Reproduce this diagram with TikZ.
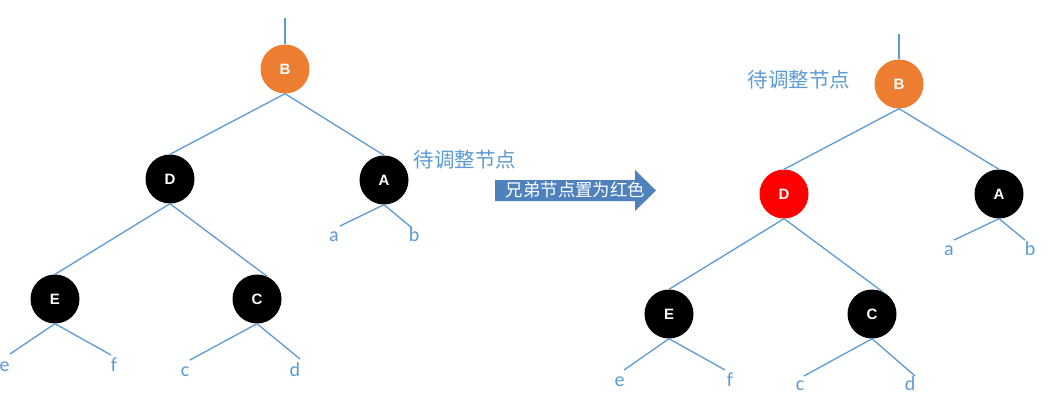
\documentclass[tikz,border=0pt]{standalone}
\usepackage{fontspec}
\setmainfont{Carlito}
\newfontfamily\cjk{Noto Sans CJK SC}
\newfontfamily\labfont{Liberation Sans}
\definecolor{lblue}{HTML}{5B9BD5}
\definecolor{orng}{HTML}{ED7D31}
\definecolor{arrowblue}{HTML}{4F81BD}
\begin{document}
\begin{tikzpicture}[x=1pt,y=-1pt,
  rbnode/.style={circle, minimum size=49pt, inner sep=0pt, text=white,
    font=\labfont\bfseries\fontsize{15}{15}\selectfont},
  blk/.style={rbnode, fill=black},
  orn/.style={rbnode, fill=orng},
  redn/.style={rbnode, fill=red},
  edge/.style={draw=lblue, line width=1.3pt},
  leaf/.style={text=lblue, font=\fontsize{20}{20}\selectfont, inner sep=0pt, anchor=base},
  note/.style={text=lblue, font=\cjk\fontsize{20.5}{20.5}\selectfont, inner sep=0pt}
]
\useasboundingbox (0,0) rectangle (1057,412);

% ---------- left tree ----------
\node[orn] (LB) at (285,69) {B};
\node[blk] (LD) at (170,179) {D};
\node[blk] (LA) at (384,180) {A};
\node[blk] (LE) at (55,299) {E};
\node[blk] (LC) at (257,299) {C};
\coordinate (LTop) at (285,18);
\coordinate (La) at (340,226);
\coordinate (Lb) at (412,228);
\coordinate (Le) at (10,354);
\coordinate (Lf) at (111,355);
\coordinate (Lc) at (190,360);
\coordinate (Ld) at (300,359);
\draw[edge] (LTop) -- (LB.north);
\draw[edge] (LB.south) -- (LD.north);
\draw[edge] (LB.south) -- (LA.north);
\draw[edge] (LD.south) -- (LE.north);
\draw[edge] (LD.south) -- (LC.65);
\draw[edge] (LA.south) -- (La);
\draw[edge] (LA.south) -- (Lb);
\draw[edge] (LE.south) -- (Le);
\draw[edge] (LE.south) -- (Lf);
\draw[edge] (LC.south) -- (Lc);
\draw[edge] (LC.south) -- (Ld);
\node[leaf] (tLa) at (334,241.5) {a};
\node[leaf] (tLb) at (414,241.5) {b};
\node[leaf] (tLe) at (4.5,371) {e};
\node[leaf] (tLf) at (114,371) {f};
\node[leaf] (tLc) at (185,376) {c};
\node[leaf] (tLd) at (295,376) {d};
\node[note] (noteL) at (465,160) {待调整节点};

% ---------- arrow ----------
\fill[arrowblue] (495,180) -- (635,180) -- (635,170) -- (656,190.5) -- (635,211) -- (635,201) -- (495,201) -- cycle;
\node[text=white, font=\cjk\fontsize{17.4}{17.4}\selectfont, inner sep=0pt] (arrowtext) at (575.5,189.5) {兄弟节点置为红色};

% ---------- right tree ----------
\node[orn] (RB) at (899,84) {B};
\node[redn] (RD) at (784,194) {D};
\node[blk] (RA) at (999,194) {A};
\node[blk] (RE) at (669,314) {E};
\node[blk] (RC) at (872,314) {C};
\coordinate (RTop) at (899,34);
\coordinate (Ra) at (954,240);
\coordinate (Rb) at (1025,240);
\coordinate (Re) at (624,370);
\coordinate (Rf) at (725,370);
\coordinate (Rc) at (804,376);
\coordinate (Rd) at (915,376);
\draw[edge] (RTop) -- (RB.north);
\draw[edge] (RB.south) -- (RD.north);
\draw[edge] (RB.south) -- (RA.north);
\draw[edge] (RD.south) -- (RE.north);
\draw[edge] (RD.south) -- (RC.65);
\draw[edge] (RA.south) -- (Ra);
\draw[edge] (RA.south) -- (Rb);
\draw[edge] (RE.south) -- (Re);
\draw[edge] (RE.south) -- (Rf);
\draw[edge] (RC.south) -- (Rc);
\draw[edge] (RC.south) -- (Rd);
\node[leaf] (tRa) at (949,255.5) {a};
\node[leaf] (tRb) at (1030,255.5) {b};
\node[leaf] (tRe) at (619.5,386) {e};
\node[leaf] (tRf) at (730,386) {f};
\node[leaf] (tRc) at (800,390.5) {c};
\node[leaf] (tRd) at (910,390.5) {d};
\node[note] (noteR) at (799,80) {待调整节点};
\end{tikzpicture}
\end{document}
